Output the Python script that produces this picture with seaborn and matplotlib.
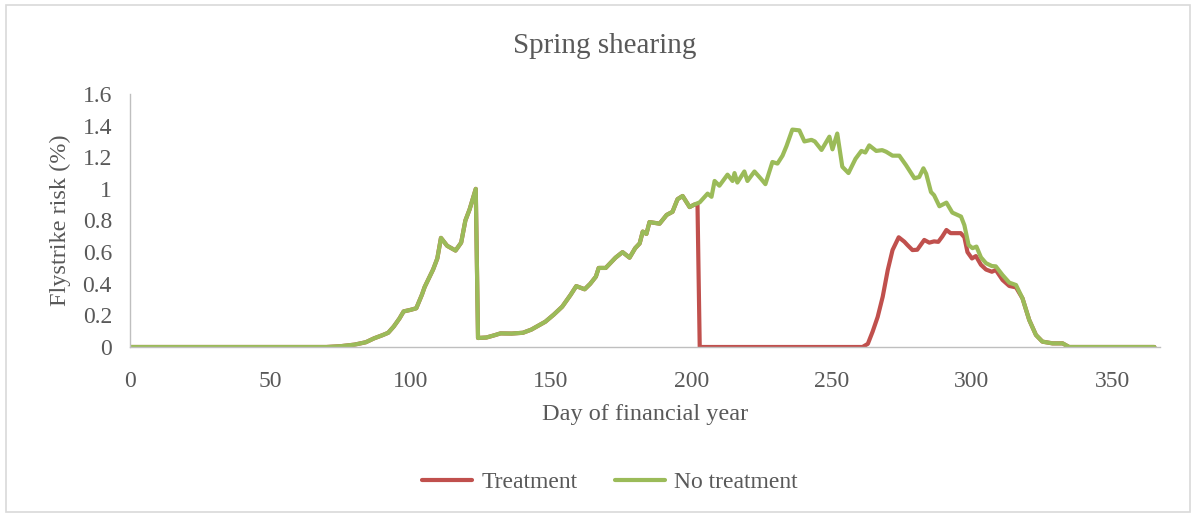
import numpy as np
import pandas as pd
import matplotlib
matplotlib.use("Agg")
import matplotlib.pyplot as plt
import seaborn as sns
from matplotlib.patches import Rectangle

# Values (day of financial year, flystrike risk %).
no_treat_days = [0, 70, 75, 80, 84, 87, 90, 92, 94, 96, 97.5, 100, 102, 104, 105,
                 108, 109.5, 110.8, 113, 115, 116, 118, 119.5, 121, 123.2, 124, 127,
                 130, 132, 136, 140, 143, 145, 148, 151, 154, 157, 159, 162, 164, 166,
                 167, 169.5, 173, 175.5, 178, 180, 181.6, 182.7, 184, 185.1, 188.7,
                 191.2, 193.3, 195.1, 196.9, 199.4, 201, 203, 205.8, 207.2, 208.3, 210,
                 212.9, 214.7, 215.4, 216.4, 218.9, 220, 222.5, 225, 226.4, 228.9,
                 230.7, 232.5, 233.9, 236, 238.5, 240.3, 242.8, 244, 246.4, 249.2,
                 250.3, 252, 253.8, 256, 258.5, 260.6, 262, 263.4, 265.9, 268, 269.4,
                 271.7, 274.1, 276.5, 279.5, 281.2, 282.7, 283.7, 285.4, 286.5, 288.4,
                 290.9, 293, 296.1, 297.3, 298.8, 300.2, 301.6, 303.2, 305, 307.1,
                 308.5, 310.9, 313.3, 315.7, 318, 320.4, 322.8, 325.1, 328.7, 332.3,
                 334.6, 365]
no_treat_risk = [0, 0, 0.005, 0.015, 0.03, 0.055, 0.075, 0.09, 0.13, 0.18, 0.225, 0.235,
                 0.245, 0.33, 0.38, 0.49, 0.56, 0.69, 0.64, 0.62, 0.61, 0.66, 0.80, 0.87,
                 1.0, 0.057, 0.06, 0.075, 0.086, 0.085, 0.09, 0.11, 0.13, 0.16, 0.205,
                 0.255, 0.33, 0.385, 0.365, 0.40, 0.445, 0.50, 0.50, 0.565, 0.60, 0.565,
                 0.625, 0.655, 0.73, 0.715, 0.79, 0.78, 0.835, 0.855, 0.935, 0.955,
                 0.885, 0.90, 0.915, 0.97, 0.95, 1.05, 1.02, 1.09, 1.05, 1.10, 1.04,
                 1.11, 1.05, 1.11, 1.06, 1.03, 1.17, 1.16, 1.21, 1.27, 1.375, 1.37,
                 1.30, 1.31, 1.30, 1.246, 1.33, 1.25, 1.35, 1.14, 1.10, 1.19, 1.24,
                 1.23, 1.275, 1.24, 1.245, 1.235, 1.21, 1.21, 1.15, 1.067, 1.075, 1.13,
                 1.095, 0.98, 0.96, 0.89, 0.913, 0.85, 0.825, 0.77, 0.645, 0.625, 0.635,
                 0.567, 0.53, 0.512, 0.51, 0.455, 0.407, 0.392, 0.308, 0.171, 0.076,
                 0.034, 0.023, 0.023, 0, 0]

# Treatment follows no treatment until shearing (~day 202), then its own path,
# and rejoins the untreated curve from day 318.
treat_days_mid = [202.2, 203, 261, 262.9, 264.6, 266.4, 268.2, 270, 271.7, 273.9,
                  275.9, 277, 278.8, 280.5, 283, 284.8, 286.5, 288, 289.4, 290.9,
                  292.4, 296, 297.3, 298.4, 300, 301.4, 303.2, 305, 307.1, 308.5,
                  310.9, 313.3, 315.7]
treat_risk_mid = [0.905, 0, 0, 0.02, 0.097, 0.19, 0.318, 0.487, 0.613, 0.694, 0.666,
                  0.645, 0.613, 0.615, 0.677, 0.66, 0.668, 0.665, 0.698, 0.74, 0.72,
                  0.72, 0.694, 0.60, 0.56, 0.575, 0.52, 0.49, 0.476, 0.487, 0.424,
                  0.386, 0.377]
split_before = 201
rejoin_after = 318

series_names = ["Treatment", "No treatment"]
series_colors = ["#C0504D", "#9BBB59"]
y_ticks = [0, 0.2, 0.4, 0.6, 0.8, 1, 1.2, 1.4, 1.6]
y_tick_labels = ["0", "0.2", "0.4", "0.6", "0.8", "1", "1.2", "1.4", "1.6"]
x_ticks = [0, 50, 100, 150, 200, 250, 300, 350]

# build the treatment series
nt = pd.DataFrame({"day": no_treat_days, "risk": no_treat_risk})
tr = pd.concat([
    nt[nt["day"] <= split_before],
    pd.DataFrame({"day": treat_days_mid, "risk": treat_risk_mid}),
    nt[nt["day"] >= rejoin_after],
], ignore_index=True)
tr["series"] = "Treatment"
nt["series"] = "No treatment"
df = pd.concat([tr, nt], ignore_index=True)

sns.set_style("white")
plt.rcParams["font.family"] = ["Liberation Serif", "DejaVu Serif"]
text_col = "#595959"

fig = plt.figure(figsize=(11.96, 5.17), dpi=100)
ax = fig.add_axes([130 / 1196, 1 - 347 / 517, (1160 - 130) / 1196, (347 - 94) / 517])

sns.lineplot(data=df, x="day", y="risk", hue="series", hue_order=series_names,
             palette=series_colors, estimator=None, sort=False, linewidth=3.0,
             ax=ax)

ax.set_xlim(0, 367)
ax.set_ylim(0, 1.6)
ax.set_xticks(x_ticks)
ax.set_yticks(y_ticks)
ax.set_yticklabels(y_tick_labels)
ax.tick_params(length=0, labelsize=17, colors=text_col)
ax.tick_params(axis="y", pad=13)
ax.tick_params(axis="x", pad=17)
for s in ["top", "right"]:
    ax.spines[s].set_visible(False)
for s in ["left", "bottom"]:
    ax.spines[s].set_color("#BFBFBF")
    ax.spines[s].set_linewidth(1.0)

ax.set_xlabel("Day of financial year", fontsize=17.5, color=text_col, labelpad=9)
ax.set_ylabel("Flystrike risk (%)", fontsize=17.5, color=text_col, labelpad=8)
fig.text(605 / 1196, 1 - 46 / 517, "Spring shearing", fontsize=21, color=text_col,
         ha="center", va="center")

handles, labels = ax.get_legend_handles_labels()
ax.get_legend().remove()
fig.legend(handles, labels, loc="center", bbox_to_anchor=(610 / 1196, 1 - 482 / 517),
           ncol=2, frameon=False, fontsize=17, labelcolor=text_col,
           handlelength=2.1, columnspacing=1.6, handletextpad=0.4)

fig.patches.append(Rectangle((6 / 1196, 5 / 517), 1184 / 1196, 507 / 517,
                             transform=fig.transFigure, fill=False,
                             edgecolor="#D9D9D9", linewidth=1.2))

fig.savefig("out.png", dpi=100)
